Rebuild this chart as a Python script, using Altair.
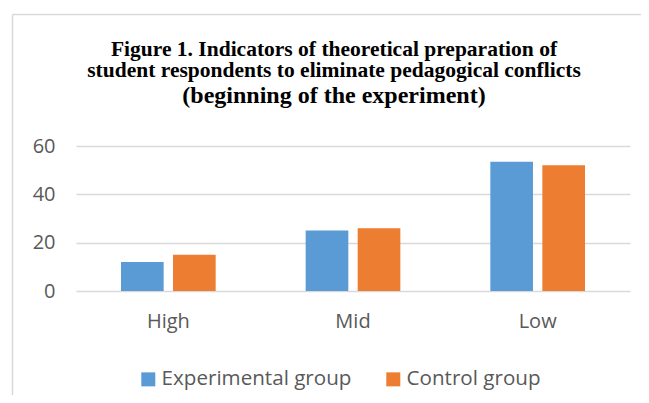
import altair as alt
import pandas as pd

categories = ["High", "Mid", "Low"]
groups = ["Experimental group", "Control group"]
experimental = [12, 25, 53.5]
control = [15, 26, 52]
y_ticks = [0, 20, 40, 60]
colors = ["#5b9bd5", "#ed7d31"]

rows = []
for c, e, k in zip(categories, experimental, control):
    rows.append({"level": c, "group": groups[0], "value": e})
    rows.append({"level": c, "group": groups[1], "value": k})
df = pd.DataFrame(rows)

FONT = "Open Sans"
GREY = "#595959"

bars = alt.Chart(df).mark_bar().encode(
    x=alt.X("level:N", sort=categories,
            scale=alt.Scale(paddingInner=0, paddingOuter=0),
            axis=alt.Axis(title=None, labelAngle=0, ticks=False, domain=False,
                          labelFontSize=20, labelColor=GREY, labelFont=FONT,
                          labelPadding=20, grid=False)),
    xOffset=alt.XOffset("group:N", sort=groups,
                        scale=alt.Scale(paddingInner=0.18, paddingOuter=0.865)),
    y=alt.Y("value:Q", scale=alt.Scale(domain=[0, 60], nice=False),
            axis=alt.Axis(title=None, values=y_ticks, ticks=False, domain=False,
                          labelFontSize=20, labelColor=GREY, labelFont=FONT,
                          labelPadding=21, grid=True, gridColor="#d9d9d9",
                          gridWidth=1.5)),
    color=alt.Color("group:N", sort=groups,
                    scale=alt.Scale(domain=groups, range=colors),
                    legend=alt.Legend(title=None, orient="none", legendX=62,
                                      legendY=223, direction="horizontal",
                                      symbolType="square", symbolSize=196,
                                      symbolStrokeWidth=0, labelFontSize=20.6,
                                      labelColor=GREY, labelFont=FONT,
                                      labelOffset=3, columnPadding=31,
                                      labelLimit=400, padding=0)),
)

one = pd.DataFrame({"k": [0]})
frame_top = alt.Chart(one).mark_rule(color="#d9d9d9", strokeWidth=1.5).encode(
    x=alt.value(-63.5), x2=alt.value(565), y=alt.value(-131.5),
)
frame_left = alt.Chart(one).mark_rule(color="#d9d9d9", strokeWidth=1.5).encode(
    x=alt.value(-63.5), y=alt.value(-131.5), y2=alt.value(300),
)

chart = alt.layer(frame_top, frame_left, bars).properties(
    width=554,
    height=145,
    padding={"left": 68, "top": 138, "right": 11, "bottom": 104},
    autosize=alt.AutoSizeParams(type="none"),
    title=alt.TitleParams(
        text=["Figure 1. Indicators of theoretical preparation of",
              "student respondents to eliminate pedagogical conflicts"],
        subtitle="(beginning of the experiment)",
        font="Liberation Serif", fontSize=21.5, fontWeight="bold", color="black",
        subtitleFont="Liberation Serif", subtitleFontSize=24,
        subtitleFontWeight="bold", subtitleColor="black",
        lineHeight=21, subtitlePadding=2, anchor="middle", frame="group",
        offset=-94, dx=-19,
    ),
).configure_view(stroke=None)

chart.save("out.html", embed_options={"renderer": "svg", "actions": False})
